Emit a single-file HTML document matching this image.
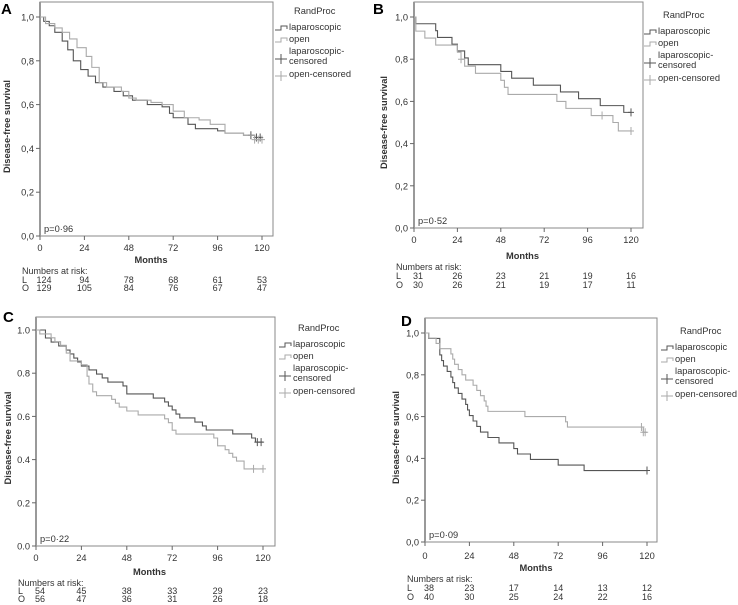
<!DOCTYPE html>
<html><head><meta charset="utf-8"><style>
body{margin:0;background:#fff;}
svg{display:block;font-family:"Liberation Sans",sans-serif;}
</style></head><body>
<svg id="fig" width="738" height="605" viewBox="0 0 738 605"></svg>
<script>
// ---- Data (months, survival after step) ----
const xTicks=[0,24,48,72,96,120];
const yTicks=[0,0.2,0.4,0.6,0.8,1.0];
const riskA_L=[124,94,78,68,61,53];
const riskA_O=[129,105,84,76,67,47];
const riskB_L=[31,26,23,21,19,16];
const riskB_O=[30,26,21,19,17,11];
const riskC_L=[54,45,38,33,29,23];
const riskC_O=[56,47,36,31,26,18];
const riskD_L=[38,23,17,14,13,12];
const riskD_O=[40,30,25,24,22,16];
const A_lapT=[2,5,8,12,15,18,22,26,30,34,40,45,50,58,66,70,72,80,84,96,100,110,116];
const A_lapS=[0.98,0.96,0.93,0.89,0.85,0.80,0.76,0.73,0.70,0.68,0.66,0.64,0.62,0.60,0.59,0.56,0.54,0.51,0.49,0.48,0.47,0.46,0.45];
const A_openT=[3,8,12,16,20,25,28,32,36,44,48,52,60,66,72,78,86,92,100,110,116];
const A_openS=[0.97,0.95,0.93,0.90,0.86,0.82,0.77,0.70,0.68,0.66,0.63,0.62,0.61,0.60,0.57,0.54,0.53,0.51,0.47,0.46,0.44];
const A_lapCens=[114,117,119];
const A_openCens=[116,118,120];
const B_lapT=[1,12,13,21,24,28,30,48,54,66,81,91,103,116];
const B_lapS=[0.968,0.935,0.903,0.871,0.839,0.806,0.774,0.742,0.71,0.677,0.645,0.613,0.58,0.548];
const B_openT=[1,6,12,24,26,28,34,48,50,52,79,84,98,110,113];
const B_openS=[0.933,0.9,0.867,0.833,0.8,0.767,0.733,0.7,0.667,0.633,0.6,0.567,0.533,0.5,0.46];
const B_lapCens=[120];
const B_openCens=[26,104,120];
const C_lapT=[5,8,12,16,18,20,22,24,28,32,35,38,46,48,62,68,70,72,74,76,84,88,90,104,114,116];
const C_lapS=[0.963,0.944,0.926,0.907,0.889,0.87,0.852,0.833,0.815,0.796,0.778,0.759,0.741,0.704,0.685,0.667,0.648,0.63,0.611,0.593,0.574,0.556,0.537,0.519,0.5,0.481];
const C_openT=[2,8,10,13,16,18,24,27,28,30,32,40,42,44,48,54,68,70,72,74,94,96,100,102,104,106,110];
const C_openS=[0.982,0.964,0.946,0.929,0.893,0.857,0.839,0.786,0.75,0.714,0.696,0.679,0.661,0.643,0.625,0.607,0.589,0.571,0.536,0.518,0.5,0.464,0.446,0.429,0.411,0.393,0.357];
const C_lapCens=[117,119];
const C_openCens=[115,120];
const D_lapT=[2,8,9,10,12,14,15,16,18,20,22,23,24,26,28,30,34,40,48,50,57,72,86];
const D_lapS=[0.974,0.895,0.868,0.842,0.816,0.789,0.763,0.737,0.711,0.684,0.658,0.632,0.605,0.579,0.553,0.526,0.5,0.474,0.447,0.421,0.395,0.368,0.342];
const D_openT=[2,6,8,14,15,16,18,20,22,26,28,30,32,33,34,54,76,77,118];
const D_openS=[0.975,0.95,0.925,0.9,0.875,0.85,0.825,0.8,0.775,0.75,0.725,0.7,0.675,0.65,0.625,0.6,0.575,0.55,0.525];
const D_lapCens=[120];
const D_openCens=[117,118,119];

const NS="http://www.w3.org/2000/svg";
const svg=document.getElementById('fig');
function mk(tag,attrs,parent,text){const e=document.createElementNS(NS,tag);for(const k in attrs)e.setAttribute(k,attrs[k]);if(text!==undefined)e.textContent=text;(parent||svg).appendChild(e);return e;}
const DARK="#555",LIGHT="#aaa",FRAME="#888";

const panels=[
 {id:"a",letter:"A",lx:1,ly:14,fl:40,fr:273,ft:2,x0:40,x1:262,y1:17,y0:236,sep:",",ytx:6,tickY:251,monY:263,nY:274,lY:283,oY:291,legX:292,legY:14,risk:[riskA_L,riskA_O],lap:[A_lapT,A_lapS,A_lapCens],open:[A_openT,A_openS,A_openCens]},
 {id:"b",letter:"B",lx:373,ly:14,fl:414,fr:643,ft:2,x0:414,x1:631,y1:17,y0:228,sep:",",ytx:383,tickY:243,monY:259,nY:270,lY:279,oY:288,legX:661,legY:18,risk:[riskB_L,riskB_O],lap:[B_lapT,B_lapS,B_lapCens],open:[B_openT,B_openS,B_openCens]},
 {id:"c",letter:"C",lx:3,ly:322,fl:36,fr:275,ft:317,x0:36,x1:263,y1:330,y0:546,sep:".",ytx:7,tickY:561,monY:575,nY:586,lY:594,oY:602,legX:296,legY:331,risk:[riskC_L,riskC_O],lap:[C_lapT,C_lapS,C_lapCens],open:[C_openT,C_openS,C_openCens]},
 {id:"d",letter:"D",lx:401,ly:326,fl:425,fr:657,ft:318,x0:425,x1:647,y1:333,y0:542,sep:",",ytx:395,tickY:559,monY:571,nY:582,lY:591,oY:600,legX:678,legY:334,risk:[riskD_L,riskD_O],lap:[D_lapT,D_lapS,D_lapCens],open:[D_openT,D_openS,D_openCens]}
];
const pvals={a:"p=0·96",b:"p=0·52",c:"p=0·22",d:"p=0·09"};
const FS=9.3;

panels.forEach(p=>{
 const g=mk('g',{});
 
 
 const xs=m=>p.x0+(p.x1-p.x0)*m/120;
 const ys=v=>p.y0-(p.y0-p.y1)*v;
 const lt=mk('text',{x:p.lx,y:p.ly,'font-size':15,'font-weight':'bold',fill:'#000'},g,p.letter);
 
 
 const fr=mk('rect',{x:p.fl,y:p.ft,width:p.fr-p.fl,height:p.y0-p.ft,fill:'none',stroke:FRAME,'stroke-width':1},g);
 
 
 mk('line',{x1:p.fl,y1:p.ft,x2:p.fl,y2:p.y0,stroke:'#999','stroke-width':2},g);
 yTicks.forEach(v=>{
  const y=ys(v);
  mk('line',{x1:p.fl-4,y1:y,x2:p.fl,y2:y,stroke:'#666'},g);
  const t=mk('text',{x:p.fl-6,y:y+3.5,'font-size':FS,'text-anchor':'end',fill:'#333'},g,v.toFixed(1).replace('.',p.sep));
  
  
 });
 xTicks.forEach(m=>{
  const x=xs(m);
  mk('line',{x1:x,y1:p.y0,x2:x,y2:p.y0+4,stroke:'#666'},g);
  const t=mk('text',{x:x,y:p.tickY,'font-size':FS,'text-anchor':'middle',fill:'#333'},g,String(m));
  
  
 });
 const mt=mk('text',{x:(p.x0+p.x1)/2,y:p.monY,'font-size':FS,'font-weight':'bold','text-anchor':'middle',fill:'#333'},g,'Months');
 
 
 const yc=(p.y0+p.y1)/2;
 const yt=mk('text',{x:p.ytx,y:yc,'font-size':FS,'font-weight':'bold','text-anchor':'middle',fill:'#333',transform:`rotate(-90 ${p.ytx} ${yc})`,dy:4},g,'Disease-free survival');
 
 
 const pv=mk('text',{x:p.fl+4,y:p.y0-4,'font-size':FS,fill:'#333'},g,pvals[p.id]);
 
 
 [[p.lap,DARK,'laparoscopic'],[p.open,LIGHT,'open']].forEach(([d,col,nm])=>{
  const T=d[0],S=d[1],C=d[2];
  let path=`M${xs(0)},${ys(1)}`;
  for(let i=0;i<T.length;i++){path+=` H${xs(T[i])} V${ys(S[i])}`;}
  path+=` H${xs(120)}`;
  const pe=mk('path',{d:path,fill:'none',stroke:col,'stroke-width':1.1},g);
  
  
  C.forEach(cm=>{
   let s=1;for(let i=0;i<T.length;i++)if(T[i]<=cm)s=S[i];
   const cx=xs(cm),cy=ys(s);
   const ce=mk('path',{d:`M${cx-3},${cy} H${cx+3} M${cx},${cy-4} V${cy+4}`,stroke:col,'stroke-width':1},g);
   
   
  });
 });
 const lg=mk('g',{},g);
 
 
 const L=p.legX,Y=p.legY;
 mk('text',{x:L+2,y:Y,'font-size':FS,fill:'#333'},lg,'RandProc');
 const sx=L-17;
 mk('path',{d:`M${sx},${Y+16} H${sx+6} V${Y+12} H${sx+12} V${Y+15}`,fill:'none',stroke:DARK},lg);
 mk('text',{x:sx+14,y:Y+16,'font-size':FS,fill:'#333'},lg,'laparoscopic');
 mk('path',{d:`M${sx},${Y+28} H${sx+6} V${Y+24} H${sx+12} V${Y+27}`,fill:'none',stroke:LIGHT},lg);
 mk('text',{x:sx+14,y:Y+28,'font-size':FS,fill:'#333'},lg,'open');
 mk('path',{d:`M${sx},${Y+45} H${sx+12} M${sx+6},${Y+40} V${Y+50}`,stroke:DARK},lg);
 mk('text',{x:sx+14,y:Y+40,'font-size':FS,fill:'#333'},lg,'laparoscopic-');
 mk('text',{x:sx+14,y:Y+50,'font-size':FS,fill:'#333'},lg,'censored');
 mk('path',{d:`M${sx},${Y+62} H${sx+12} M${sx+6},${Y+57} V${Y+67}`,stroke:LIGHT},lg);
 mk('text',{x:sx+14,y:Y+63,'font-size':FS,fill:'#333'},lg,'open-censored');
 const rg=mk('g',{},g);
 
 
 mk('text',{x:p.x0-18,y:p.nY,'font-size':9,fill:'#333'},rg,'Numbers at risk:');
 mk('text',{x:p.x0-18,y:p.lY,'font-size':9,fill:'#333'},rg,'L');
 mk('text',{x:p.x0-18,y:p.oY,'font-size':9,fill:'#333'},rg,'O');
 [[p.risk[0],p.lY],[p.risk[1],p.oY]].forEach(([arr,y])=>{
  arr.forEach((n,i)=>{
   const x=i===0?xs(0)+4:xs(xTicks[i]);
   mk('text',{x:x,y:y,'font-size':9,'text-anchor':'middle',fill:'#333'},rg,String(n));
  });
 });
});
</script>
</body></html>
